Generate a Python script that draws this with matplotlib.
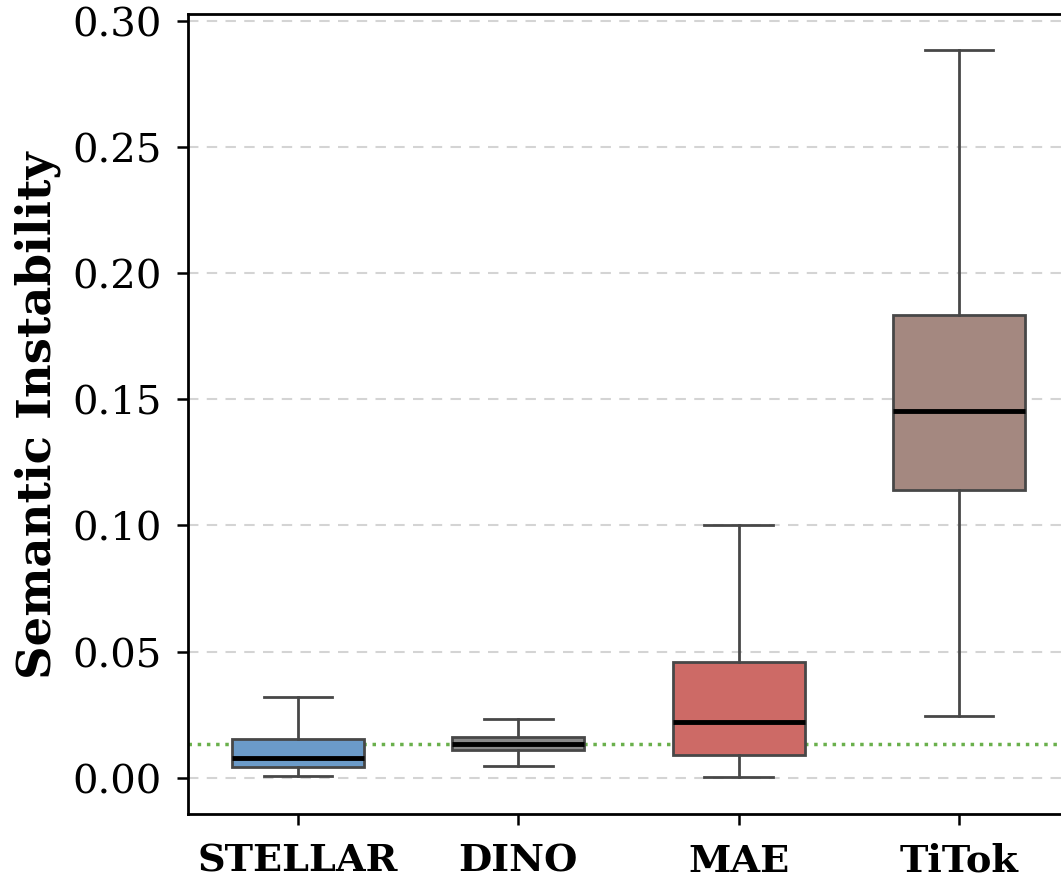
import matplotlib
matplotlib.use("Agg")
from matplotlib import pyplot as plt

# Данные (оценены по картинке)
methods = ["STELLAR", "DINO", "MAE", "TiTok"]
whislo = [0.0008, 0.0048, 0.0004, 0.0246]
q1 = [0.0044, 0.0111, 0.0091, 0.1141]
med = [0.0079, 0.0135, 0.0222, 0.1455]
q3 = [0.0155, 0.0162, 0.0460, 0.1835]
whishi = [0.0321, 0.0234, 0.1003, 0.2885]
ref_level = 0.0135  # медиана DINO
colors = ["#6b9bc9", "#8a8a8a", "#cd6a66", "#a48880"]

plt.rcParams['font.family'] = 'DejaVu Serif'

fig = plt.figure(figsize=(10.61, 8.79), dpi=100)
ax = fig.add_axes([188 / 1061, 64 / 879, 881 / 1061, 800 / 879])

stats = []
for i, name in enumerate(methods):
    stats.append(dict(label=name, whislo=whislo[i], q1=q1[i], med=med[i],
                      q3=q3[i], whishi=whishi[i], fliers=[]))

edge = "#474747"
bp = ax.bxp(stats, positions=range(len(methods)), widths=0.6,
            patch_artist=True, showfliers=False,
            boxprops=dict(edgecolor=edge, linewidth=2),
            whiskerprops=dict(color=edge, linewidth=2),
            capprops=dict(color=edge, linewidth=2),
            medianprops=dict(color="black", linewidth=3.5),
            capwidths=0.31)
for patch, c in zip(bp["boxes"], colors):
    patch.set_facecolor(c)

ax.axhline(ref_level, color="#6ab04c", linestyle=":", linewidth=2.5, zorder=1)

ax.set_xlim(-0.5, 3.5)
ax.set_ylim(-0.0144, 0.3028)
ax.set_yticks([0.0, 0.05, 0.10, 0.15, 0.20, 0.25, 0.30])
ax.set_yticklabels(["0.00", "0.05", "0.10", "0.15", "0.20", "0.25", "0.30"])
ax.yaxis.grid(True, linestyle="--", color="#d4d4d4", linewidth=1.5, dashes=(5, 4))
ax.set_axisbelow(True)

ax.tick_params(axis="y", labelsize=29, length=8, width=1.8, pad=11)
ax.tick_params(axis="x", labelsize=27.5, length=8, width=1.8, pad=12)
for lbl in ax.get_xticklabels():
    lbl.set_fontweight("bold")
ax.set_ylabel("Semantic Instability", fontsize=33.5, fontweight="bold", labelpad=8)
for s in ax.spines.values():
    s.set_linewidth(2)

fig.savefig("out.png", dpi=100)
